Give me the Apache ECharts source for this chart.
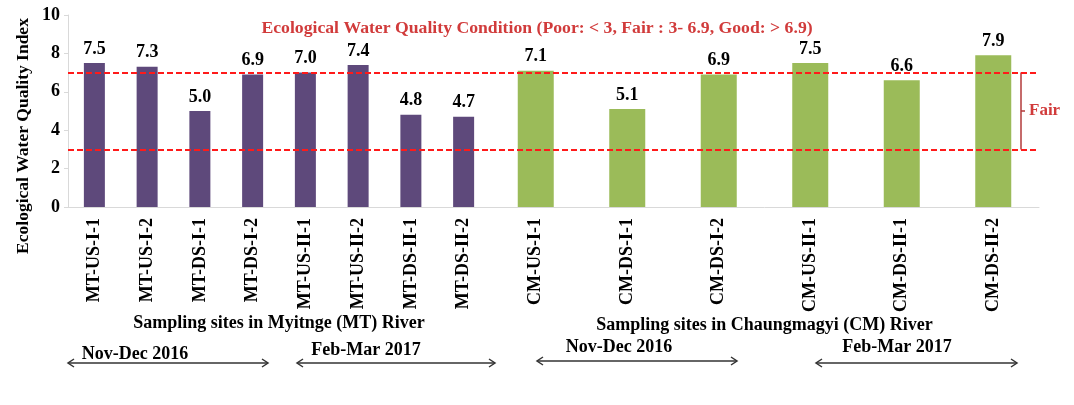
<!DOCTYPE html>
<html>
<head>
<meta charset="utf-8">
<script src="https://cdn.jsdelivr.net/npm/echarts@6/dist/echarts.min.js"></script>
<style>
html,body{margin:0;padding:0;background:#fff;}
#main{width:1074px;height:405px;}
</style>
</head>
<body>
<div id="main"></div>
<script>
// ---- data ----
const mtSites = ['MT-US-I-1','MT-US-I-2','MT-DS-I-1','MT-DS-I-2','MT-US-II-1','MT-US-II-2','MT-DS-II-1','MT-DS-II-2'];
const mtValues = [7.5, 7.3, 5.0, 6.9, 7.0, 7.4, 4.8, 4.7];
const cmSites = ['CM-US-I-1','CM-DS-I-1','CM-DS-I-2','CM-US-II-1','CM-DS-II-1','CM-DS-II-2'];
const cmValues = [7.1, 5.1, 6.9, 7.5, 6.6, 7.9];
const fairBounds = [7, 3];
const yMin = 0, yMax = 10, yInterval = 2;
const titleText = 'Ecological Water Quality Condition (Poor: < 3, Fair : 3- 6.9, Good: > 6.9)';
const yName = 'Ecological Water Quality Index';
const mtName = 'Sampling sites in Myitnge (MT) River';
const cmName = 'Sampling sites in Chaungmagyi (CM) River';
const periods = ['Nov-Dec 2016', 'Feb-Mar 2017'];

const FONT = '"Liberation Serif", "Times New Roman", serif';
const RED = '#d13b3b';

const chart = echarts.init(document.getElementById('main'), null, {renderer: 'canvas'});

function xAxisCfg(gridIndex, data, name) {
  return {
    type: 'category', gridIndex: gridIndex, data: data,
    name: name, nameLocation: 'middle', nameGap: 107,
    nameTextStyle: {fontFamily: FONT, fontWeight: 'bold', fontSize: 18, color: '#000'},
    axisLine: {lineStyle: {color: '#d9d9d9', width: 1}},
    axisTick: {show: false},
    axisLabel: {rotate: 90, margin: 11, interval: 0, fontFamily: FONT, fontWeight: 'bold', fontSize: 18, color: '#000'}
  };
}
function yAxisCfg(gridIndex, show) {
  return {
    type: 'value', gridIndex: gridIndex, min: yMin, max: yMax, interval: yInterval,
    splitLine: {show: false},
    axisLine: {show: show, lineStyle: {color: '#d9d9d9'}},
    axisTick: {show: show, length: 4, lineStyle: {color: '#d9d9d9'}},
    axisLabel: {show: show, margin: 8, fontFamily: FONT, fontWeight: 'bold', fontSize: 18, color: '#000'}
  };
}
const labelCfg = {
  show: true, position: 'top', distance: 5,
  fontFamily: FONT, fontWeight: 'bold', fontSize: 18, color: '#000',
  formatter: p => p.value.toFixed(1)
};
const dashStyle = {color: '#ff1a1a', type: [6, 3], width: 2};

chart.setOption({
  animation: false,
  backgroundColor: '#fff',
  grid: [
    {left: 68, width: 422, top: 15, height: 192},
    {left: 490, width: 549, top: 15, height: 192}
  ],
  xAxis: [xAxisCfg(0, mtSites, mtName), xAxisCfg(1, cmSites, cmName)],
  yAxis: [yAxisCfg(0, true), yAxisCfg(1, false)],
  series: [
    {
      type: 'bar', xAxisIndex: 0, yAxisIndex: 0, data: mtValues, barWidth: 21,
      itemStyle: {color: '#5e497b'}, label: labelCfg,
      markLine: {silent: true, symbol: 'none', label: {show: false}, lineStyle: dashStyle,
        data: fairBounds.map(v => ({yAxis: v}))}
    },
    {
      type: 'bar', xAxisIndex: 1, yAxisIndex: 1, data: cmValues, barWidth: 36,
      itemStyle: {color: '#9bbb59'}, label: labelCfg,
      markLine: {silent: true, symbol: ['none', 'arrow'], symbolSize: [0, 9], label: {show: false}, lineStyle: dashStyle,
        data: fairBounds.map(v => ({yAxis: v}))}
    }
  ]
});

// annotation graphics, vertical positions taken from the value scale
const yTop = chart.convertToPixel({yAxisIndex: 1}, fairBounds[0]);
const yBot = chart.convertToPixel({yAxisIndex: 1}, fairBounds[1]);
const yMid = (yTop + yBot) / 2;

function arrow(x1, x2, y) {
  const h = 4, w = 6;
  return [
    {type: 'line', shape: {x1: x1, y1: y, x2: x2, y2: y}, style: {stroke: '#333', lineWidth: 1.5}},
    {type: 'polyline', shape: {points: [[x1 + w, y - h], [x1, y], [x1 + w, y + h]]}, style: {stroke: '#333', lineWidth: 1.5, fill: null}},
    {type: 'polyline', shape: {points: [[x2 - w, y - h], [x2, y], [x2 - w, y + h]]}, style: {stroke: '#333', lineWidth: 1.5, fill: null}}
  ];
}
function txt(text, x, y, size, color, rot) {
  return {type: 'text', x: x, y: y, rotation: rot || 0,
    style: {text: text, fontFamily: FONT, fontWeight: 'bold', fontSize: size, fill: color, align: 'center', verticalAlign: 'middle'}};
}

const g = [
  txt(titleText, 537, 28, 17.7, RED),
  txt(yName, 23, 136, 17.5, '#000', Math.PI / 2),
  {type: 'line', shape: {x1: 1021, y1: yTop, x2: 1021, y2: yBot}, style: {stroke: '#b23a3a', lineWidth: 1.5}},
  {type: 'line', shape: {x1: 1021, y1: yMid, x2: 1025, y2: yMid}, style: {stroke: '#b23a3a', lineWidth: 1.5}},
  {type: 'text', x: 1029, y: yMid, style: {text: 'Fair', fontFamily: FONT, fontWeight: 'bold', fontSize: 17, fill: RED, align: 'left', verticalAlign: 'middle'}},
  txt(periods[0], 135, 354, 18, '#000'),
  txt(periods[1], 366, 350, 18, '#000'),
  txt(periods[0], 619, 347, 18, '#000'),
  txt(periods[1], 897, 347, 18, '#000')
].concat(arrow(68, 268, 363), arrow(297, 495, 363), arrow(537, 737, 361), arrow(816, 1017, 363));

chart.setOption({graphic: g});
</script>
</body>
</html>
